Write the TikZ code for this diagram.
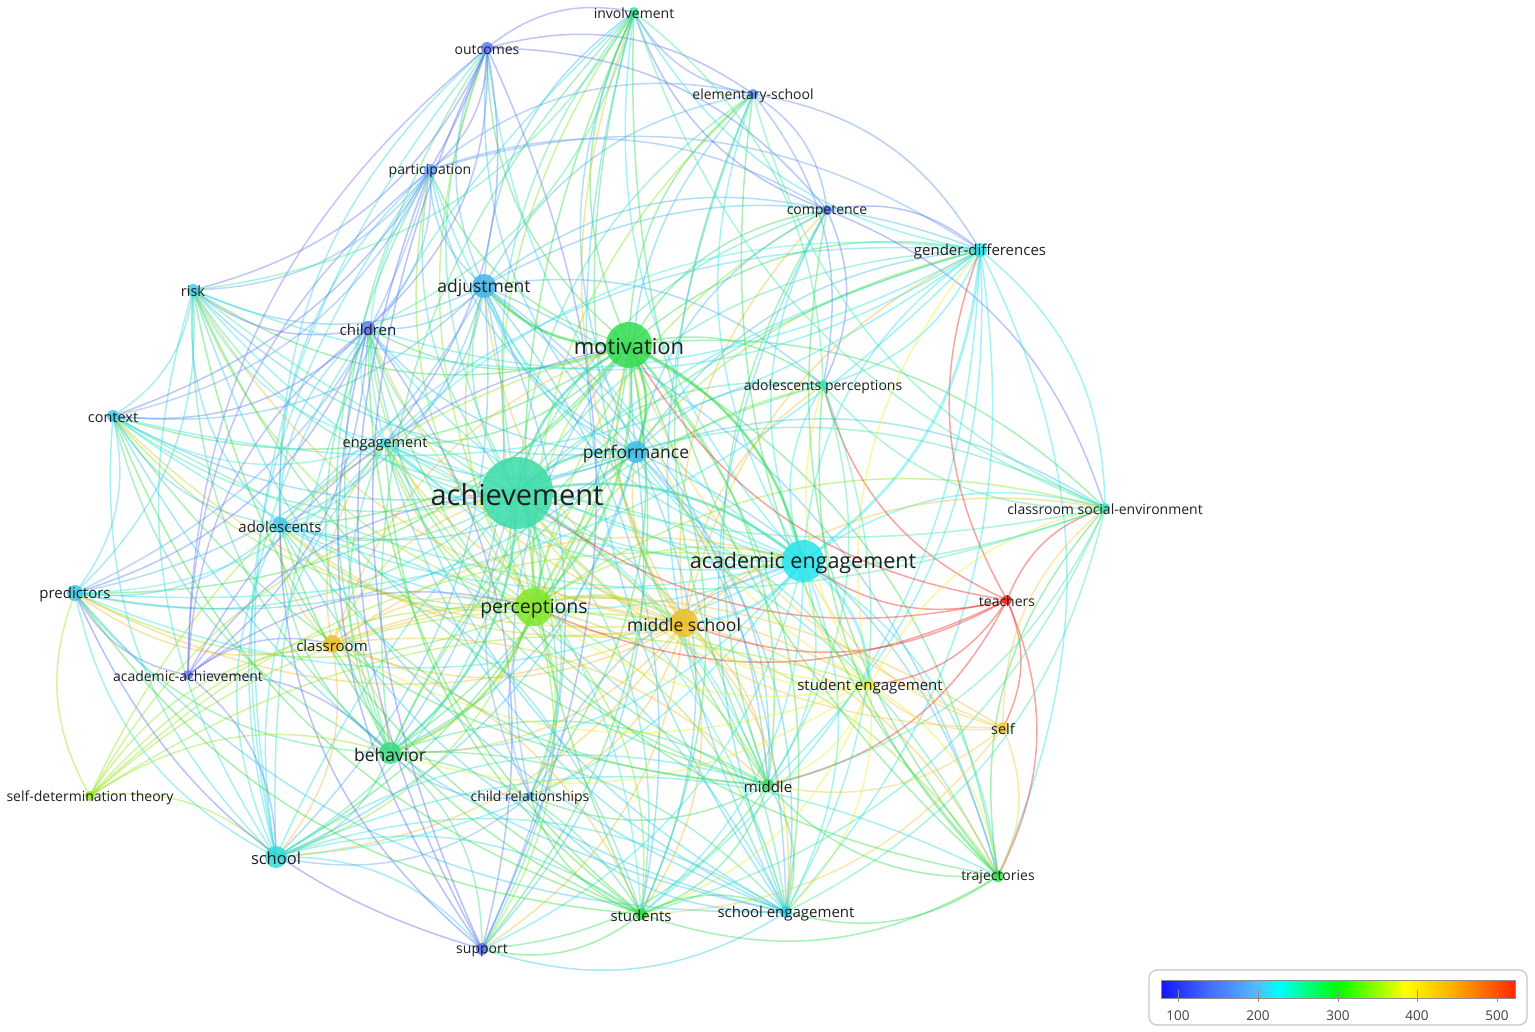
\documentclass[tikz,border=0pt]{standalone}
\usepackage{fontspec}
\setmainfont{Open Sans}
\begin{document}
\begin{tikzpicture}[x=1pt,y=-1pt,
  edge/.style={line width=1.5pt,draw opacity=0.42},
  bubble/.style={fill opacity=0.85},
  lbl/.style={font=\fontsize{#1}{#1}\selectfont,text=black!88,inner sep=0pt,yshift=-1.5pt}]
\useasboundingbox[fill=white] (0,0) rectangle (1535,1032);
% colours
\definecolor{c-inv}{RGB}{60,230,150}
\definecolor{c-out}{RGB}{100,120,240}
\definecolor{c-ele}{RGB}{90,140,240}
\definecolor{c-par}{RGB}{100,160,250}
\definecolor{c-com}{RGB}{90,120,240}
\definecolor{c-gen}{RGB}{40,225,230}
\definecolor{c-risk}{RGB}{60,205,235}
\definecolor{c-adj}{RGB}{70,180,235}
\definecolor{c-chi}{RGB}{100,120,240}
\definecolor{c-mot}{RGB}{50,220,80}
\definecolor{c-adp}{RGB}{60,230,170}
\definecolor{c-con}{RGB}{60,205,235}
\definecolor{c-eng}{RGB}{60,230,230}
\definecolor{c-perf}{RGB}{60,190,235}
\definecolor{c-ach}{RGB}{60,220,170}
\definecolor{c-ado}{RGB}{60,205,235}
\definecolor{c-cse}{RGB}{60,230,170}
\definecolor{c-aen}{RGB}{40,228,238}
\definecolor{c-pred}{RGB}{60,200,235}
\definecolor{c-tea}{RGB}{240,40,30}
\definecolor{c-per}{RGB}{130,230,40}
\definecolor{c-msc}{RGB}{240,190,40}
\definecolor{c-cla}{RGB}{240,190,50}
\definecolor{c-aac}{RGB}{110,120,240}
\definecolor{c-sen}{RGB}{240,240,40}
\definecolor{c-self}{RGB}{245,200,60}
\definecolor{c-beh}{RGB}{60,220,130}
\definecolor{c-mid}{RGB}{60,220,100}
\definecolor{c-chr}{RGB}{100,170,240}
\definecolor{c-sdt}{RGB}{150,230,30}
\definecolor{c-sch}{RGB}{50,220,220}
\definecolor{c-tra}{RGB}{50,220,80}
\definecolor{c-stu}{RGB}{50,220,60}
\definecolor{c-seng}{RGB}{50,200,235}
\definecolor{c-sup}{RGB}{90,110,240}
% coordinates
\foreach \n/\x/\y in {inv/634/12, out/487/48, ele/753/94, par/430/170, com/827/210,
  gen/980/250, risk/193/290, adj/484/286, chi/368/328, mot/629/345, adp/823/385,
  con/113/416, eng/385/443, perf/636/452, ach/517/493, ado/280/525, cse/1105/508,
  aen/803/561, pred/75/593, tea/1007/600, per/534/607, msc/684/623, cla/332/644,
  aac/188/675, sen/870/685, self/1003/728, beh/390/753, mid/768/785, chr/530/796,
  sdt/90/796, sch/276/857, tra/998/876, stu/641/914, seng/786/912, sup/482/949}
  {\coordinate (\n) at (\x,\y);}
% edges (coloured by first node)
\foreach \a/\bl in {
 ach/{inv,out,ele,par,com,gen,risk,adj,chi,mot,adp,con,eng,perf,ado,cse,aen,pred,sen,beh,mid,chr,sch,tra,stu,seng,sup},
 mot/{inv,out,ele,par,com,gen,risk,adj,chi,adp,con,eng,perf,ado,cse,aen,pred,beh,mid,chr,sch,tra,stu,seng,sup},
 aen/{inv,ele,com,gen,risk,adj,adp,con,eng,perf,ado,cse,pred,beh,mid,sch,tra,stu,seng,sup,chi,out,par},
 per/{ach,mot,aen,adj,eng,perf,ado,beh,mid,chr,sch,stu,seng,sup,pred,con,gen,adp,inv,tra,cse,out,ele,par,com,chi,risk},
 msc/{ach,mot,aen,per,perf,beh,mid,stu,seng,sch,adj,gen,cse,tra,ado,cla,eng,chi,con,pred,risk,adp,inv,com,sup,chr},
 perf/{adj,eng,ado,beh,sch,gen,com,ele,inv,out,par,chi,risk,con,pred,stu,seng,mid,adp,cse,tra,sup},
 adj/{out,par,chi,risk,con,eng,ado,pred,beh,sch,gen,com,ele,inv,stu,sup,adp,mid,seng,tra},
 beh/{eng,ado,sch,stu,pred,con,risk,chi,seng,mid,sup,gen,adp,par,out,inv},
 sch/{ado,pred,con,risk,chi,stu,seng,sup,gen,mid,eng,out,par,inv,tra},
 eng/{ado,chi,risk,con,pred,gen,stu,seng,mid,par},
 ado/{risk,con,pred,chi,gen,stu,seng,par,out},
 out/{par,chi,risk,ele,com,inv,con,sup,eng},
 par/{chi,risk,con,pred,ele,com,gen},
 chi/{risk,con,pred,sup,aac},
 ele/{com,gen,inv,adp},
 com/{gen,inv,adp,cse},
 gen/{inv,adp,cse,tra,seng,stu,mid,risk,con,pred,chi},
 cla/{ach,mot,aen,per,sen,self,beh,sch,ado,pred,eng,stu,mid},
 tea/{aen,cse,self,tra,sen,adp,mot,ach,per,msc,gen,mid},
 self/{aen,sen,tra,mid,stu,cse,mot,ach},
 sen/{aen,ach,mot,per,msc,tra,mid,stu,seng,cse,adp,gen,cla,beh},
 sdt/{ach,mot,per,aen,beh,pred,sen,msc,cla,sch},
 aac/{ach,mot,per,pred,beh,sch,out,par,chi,cla},
 tra/{mid,stu,seng,cse,adp,inv,ele,com,eng},
 cse/{adp,mid,stu,seng,risk,con,inv,ele,eng},
 mid/{stu,seng,chr,sup,chi,ado,eng,risk,con,inv,ele,com},
 stu/{seng,sup,chr,chi,risk,con,pred,ado,eng,inv},
 seng/{sup,chr,risk,chi,con,pred,ado,eng,inv,ele,com},
 sup/{out,par,chi,ado,pred},
 chr/{ach,mot,aen,beh,sch,per},
 inv/{chi,risk,adp},
 risk/{con,pred},
 con/{pred},
 adp/{mid,seng}}
 {\foreach \b in \bl {\draw[edge,draw=c-\a] (\a) to[bend left=25] (\b);}}
% a few strong links
\foreach \a/\b in {ach/mot,ach/per,ach/aen,mot/per,mot/aen,per/msc,ach/perf,mot/perf,aen/msc,ach/beh,per/beh,aen/sen,gen/aen,mot/adj}
 {\draw[line width=2.8pt,draw opacity=0.4,draw=c-\a] (\a) to[bend left=25] (\b);}
% bubbles and labels
\foreach \n/\r/\s/\t in {inv/5/14/involvement, out/6/14/outcomes, ele/5/14/elementary-school,
  par/6/14/participation, com/5/14/competence, gen/7/15/gender-differences, risk/6/14.5/risk,
  adj/12/17.5/adjustment, chi/7/15/children, mot/23/22/motivation, adp/5/14/adolescents perceptions,
  con/6/14.5/context, eng/5/14.5/engagement, perf/11/17.5/performance, ach/36/29/achievement,
  ado/8/15/adolescents, cse/5/14/classroom social-environment, aen/21/21.5/academic engagement,
  pred/8/15/predictors, tea/5/14/teachers, per/19/19.5/perceptions, msc/14/17.5/middle school,
  cla/9/15/classroom, aac/5/14/academic-achievement, sen/5/15/student engagement,
  self/6/14.5/self, beh/11/17.5/behavior, mid/6/15/middle, chr/4/14/child relationships,
  sdt/5/14/self-determination theory, sch/11/16.5/school, tra/6/14/trajectories,
  stu/6/15/students, seng/6/15/school engagement, sup/6/14/support}
 {\fill[bubble,c-\n] (\n) circle (\r);
  \node[lbl=\s] (\n-l) at (\n) {\t};}
% legend
\draw[black!22,line width=1.2pt,rounded corners=8pt,fill=white] (1149,970) rectangle (1527,1025);
\shade[left color={rgb,255:red,20;green,20;blue,255},right color={rgb,255:red,70;green,110;blue,255}] (1161,980) rectangle (1210,998);
\shade[left color={rgb,255:red,70;green,110;blue,255},right color={rgb,255:red,80;green,190;blue,255}] (1210,980) rectangle (1258,998);
\shade[left color={rgb,255:red,80;green,190;blue,255},right color={rgb,255:red,0;green,255;blue,255}] (1258,980) rectangle (1278,998);
\shade[left color={rgb,255:red,0;green,255;blue,255},right color={rgb,255:red,0;green,255;blue,0}] (1278,980) rectangle (1338,998);
\shade[left color={rgb,255:red,0;green,255;blue,0},right color={rgb,255:red,255;green,255;blue,0}] (1338,980) rectangle (1405,998);
\shade[left color={rgb,255:red,255;green,255;blue,0},right color={rgb,255:red,255;green,180;blue,0}] (1405,980) rectangle (1450,998);
\shade[left color={rgb,255:red,255;green,180;blue,0},right color={rgb,255:red,255;green,40;blue,0}] (1450,980) rectangle (1515,998);
\draw[black!45,line width=1pt] (1161,980) rectangle (1515,998);
\foreach \v/\x in {100/1178,200/1258,300/1338,400/1417,500/1497}
 {\draw[black!45,line width=1pt] (\x,990) -- (\x,1002);
  \node[lbl=13.5,text=black!75] (tick-\v) at (\x,1014) {\v};}
\end{tikzpicture}
\end{document}
